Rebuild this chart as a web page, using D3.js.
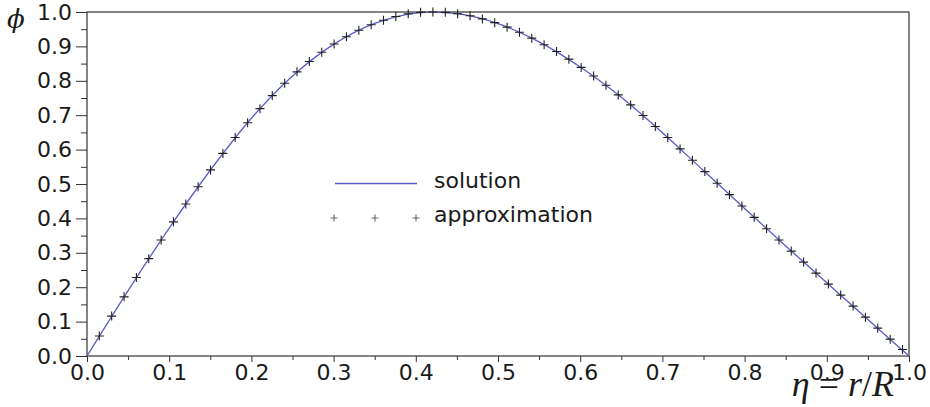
<!DOCTYPE html>
<html><head><meta charset="utf-8">
<script src="https://cdn.jsdelivr.net/npm/d3@7"></script>
<style>
html,body{margin:0;padding:0;background:#fff;}
svg{display:block;}
</style></head>
<body>
<svg id="chart" width="930" height="407"></svg>
<script>
// ---- data ----
const xTicks = [0.0,0.1,0.2,0.3,0.4,0.5,0.6,0.7,0.8,0.9,1.0];
const yTicks = [0.0,0.1,0.2,0.3,0.4,0.5,0.6,0.7,0.8,0.9,1.0];
const minorTicks = [0.05,0.15,0.25,0.35,0.45,0.55,0.65,0.75,0.85,0.95];

const solutionEta = [0,0.05,0.10,0.15,0.20,0.25,0.30,0.35,0.40,0.45,0.50,0.55,0.60,0.65,0.70,0.75,0.80,0.85,0.90,0.95,1.0];
const solutionPhi = [0,0.190,0.372,0.540,0.691,0.814,0.906,0.967,0.997,0.995,0.966,0.913,0.840,0.752,0.649,0.539,0.429,0.320,0.213,0.106,0];

const approxEta = [0.0150,0.0300,0.0451,0.0601,0.0751,0.0902,0.1052,0.1202,0.1352,0.1503,
  0.1653,0.1803,0.1954,0.2104,0.2254,0.2405,0.2555,0.2705,0.2856,0.3006,
  0.3156,0.3307,0.3457,0.3607,0.3757,0.3908,0.4058,0.4208,0.4359,0.4509,
  0.4660,0.4810,0.4960,0.5111,0.5261,0.5411,0.5561,0.5712,0.5862,0.6012,
  0.6163,0.6313,0.6463,0.6614,0.6764,0.6914,0.7065,0.7215,0.7365,0.7516,
  0.7666,0.7816,0.7967,0.8117,0.8267,0.8418,0.8568,0.8718,0.8869,0.9019,
  0.9169,0.9320,0.9470,0.9620,0.9771,0.9921];
const approxPhi = [0.058,0.116,0.172,0.228,0.283,0.337,0.390,0.442,0.492,0.541,
  0.589,0.635,0.678,0.719,0.757,0.793,0.826,0.856,0.883,0.907,
  0.928,0.947,0.963,0.976,0.987,0.995,0.999,1.000,0.999,0.995,
  0.989,0.980,0.969,0.956,0.941,0.924,0.905,0.885,0.863,0.839,
  0.814,0.787,0.759,0.730,0.699,0.667,0.635,0.602,0.569,0.536,
  0.502,0.469,0.436,0.403,0.370,0.337,0.305,0.273,0.241,0.209,
  0.177,0.145,0.113,0.081,0.049,0.019];

const legendLabels = ["solution","approximation"];
const legendMarkers = [0,1,2];

// ---- layout ----
const svg = d3.select("#chart");
const L = 87, R = 909, T = 12, B = 356;
const x = d3.scaleLinear().domain([0,1]).range([L,R]);
const y = d3.scaleLinear().domain([0,1]).range([B,T]);
const font = "'DejaVu Sans', sans-serif";
const lineColor = "#5b5bc8";
const axisColor = "#333";

// minor y ticks
const yMinor = svg.append("g").attr("transform",`translate(${L},0)`)
  .call(d3.axisLeft(y).tickValues(minorTicks).tickSize(6).tickFormat(""));
// major y ticks
const yMajor = svg.append("g").attr("transform",`translate(${L},0)`)
  .call(d3.axisLeft(y).tickValues(yTicks).tickSize(11).tickPadding(4).tickFormat(d3.format(".1f")));
// minor x ticks
const xMinor = svg.append("g").attr("transform",`translate(0,${B})`)
  .call(d3.axisBottom(x).tickValues(minorTicks).tickSize(4).tickFormat(""));
// major x ticks
const xMajor = svg.append("g").attr("transform",`translate(0,${B})`)
  .call(d3.axisBottom(x).tickValues(xTicks).tickSize(6).tickPadding(2).tickFormat(d3.format(".1f")));

[yMinor,yMajor,xMinor,xMajor].forEach(g=>{
  g.select(".domain").remove();
  g.selectAll(".tick line").attr("stroke",axisColor).attr("stroke-width",1);
  g.selectAll(".tick text").attr("fill","#1a1a1a").style("font-family",font).style("font-size","22px");
});

// frame
svg.append("rect").attr("x",L).attr("y",T).attr("width",R-L).attr("height",B-T)
  .attr("fill","none").attr("stroke",axisColor).attr("stroke-width",1.2);

// solution line
const solData = solutionEta.map((e,i)=>[e,solutionPhi[i]]);
svg.append("path").datum(solData)
  .attr("fill","none").attr("stroke",lineColor).attr("stroke-width",1.3)
  .attr("d", d3.line().x(d=>x(d[0])).y(d=>y(d[1])).curve(d3.curveCatmullRom.alpha(0.5)));

// approximation markers
const apData = approxEta.map((e,i)=>[e,approxPhi[i]]);
const plus = (g, s)=> g.append("path").attr("d",`M${-s},0H${s}M0,${-s}V${s}`)
  .attr("stroke","#222").attr("stroke-width",1.1).attr("fill","none");
svg.append("g").selectAll("g").data(apData).join("g")
  .attr("transform",d=>`translate(${x(d[0])},${y(d[1])})`)
  .each(function(){ plus(d3.select(this),4.5); });

// legend
const lg = svg.append("g");
lg.append("line").attr("x1",335).attr("x2",417).attr("y1",183.5).attr("y2",183.5)
  .attr("stroke",lineColor).attr("stroke-width",1.3);
lg.selectAll("g.m").data(legendMarkers).join("g").attr("class","m")
  .attr("transform",d=>`translate(${334+d*41},218)`)
  .each(function(){ plus(d3.select(this),3.5).attr("stroke","#666"); });
lg.selectAll("text").data(legendLabels).join("text")
  .attr("x",434).attr("y",(d,i)=>188+i*34)
  .attr("fill","#1a1a1a").style("font-family",font).style("font-size","22px")
  .text(d=>d);

// axis labels
svg.append("text").attr("x",7).attr("y",28)
  .style("font-family","'DejaVu Serif', serif").style("font-style","italic").style("font-size","26px")
  .attr("fill","#1a1a1a").text("ϕ");

const xl = svg.append("text").attr("x",894).attr("y",396).attr("text-anchor","end")
  .style("font-family","'Liberation Serif', serif").style("font-size","36px").attr("fill","#1a1a1a");
xl.append("tspan").style("font-style","italic").text("η");
xl.append("tspan").text(" = ");
xl.append("tspan").style("font-style","italic").text("r");
xl.append("tspan").text("/");
xl.append("tspan").style("font-style","italic").text("R");
</script>
</body></html>
